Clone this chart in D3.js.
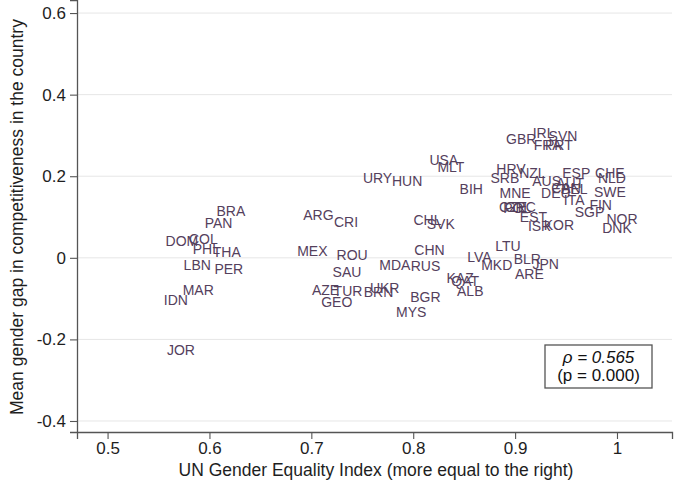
<!DOCTYPE html>
<html>
<head>
<meta charset="utf-8">
<script src="https://cdn.jsdelivr.net/npm/d3@7"></script>
<style>
  body { margin: 0; background: #fff; }
  svg { font-family: "Liberation Sans", Arial, Helvetica, sans-serif; }
</style>
</head>
<body>
<div id="chart"></div>
<script>
// country codes, equality index, gender gap
const countries = ["BRA","PAN","DOM","COL","PHL","THA","LBN","PER","MAR","IDN","JOR",
  "ARG","CRI","URY","HUN","USA","MLT","BIH","CHL","SVK","MEX","ROU","CHN","SAU","MDA","RUS",
  "AZE","TUR","GEO","UKR","BRN","BGR","MYS","KAZ","QAT","ALB","LVA","LTU","MKD","BLR","JPN","ARE",
  "GBR","IRL","SVN","FRA","PRT","HRV","NZL","SRB","AUS","ESP","CHE","NLD","AUT","CAN","BEL",
  "DEU","SWE","ITA","FIN","MNE","CZE","POL","GRC","EST","ISR","KOR","SGP","NOR","DNK"];
const equality = [0.621,0.609,0.573,0.594,0.597,0.617,0.588,0.619,0.589,0.567,0.572,
  0.707,0.734,0.765,0.794,0.830,0.837,0.857,0.814,0.827,0.701,0.740,0.816,0.735,0.782,0.812,
  0.714,0.736,0.725,0.772,0.766,0.812,0.798,0.846,0.851,0.856,0.865,0.893,0.882,0.912,0.930,0.914,
  0.906,0.928,0.947,0.932,0.943,0.896,0.917,0.890,0.931,0.960,0.993,0.995,0.954,0.950,0.958,
  0.940,0.993,0.958,0.984,0.900,0.898,0.902,0.905,0.918,0.924,0.943,0.973,1.005,1.000];
const gap = [0.115,0.085,0.041,0.046,0.022,0.014,-0.018,-0.027,-0.079,-0.103,-0.226,
  0.105,0.088,0.196,0.188,0.240,0.223,0.169,0.093,0.083,0.017,0.007,0.019,-0.035,-0.018,-0.020,
  -0.079,-0.081,-0.108,-0.074,-0.084,-0.096,-0.133,-0.050,-0.056,-0.081,0.002,0.029,-0.018,-0.003,-0.015,-0.040,
  0.291,0.306,0.299,0.276,0.276,0.218,0.208,0.196,0.188,0.208,0.208,0.196,0.184,0.172,0.168,
  0.158,0.161,0.142,0.129,0.159,0.124,0.122,0.124,0.100,0.078,0.080,0.112,0.095,0.073];

const xTicks = [0.5, 0.6, 0.7, 0.8, 0.9, 1];
const yTicks = [-0.4, -0.2, 0, 0.2, 0.4, 0.6];
const statLines = ["ρ = 0.565", "(p = 0.000)"];

const width = 676, height = 485;
const labelColor = "#54405c";
const textColor = "#1e1e1e";
const axisColor = "#555";

const svg = d3.select("#chart").append("svg")
  .attr("width", width)
  .attr("height", height);

const x = d3.scaleLinear().domain([0.47, 1.054]).range([77, 672]);
const y = d3.scaleLinear().domain([-0.427, 0.632]).range([432, 0]);

// horizontal grid
svg.append("g")
  .selectAll("line")
  .data(yTicks)
  .enter()
  .append("line")
  .attr("x1", x.range()[0])
  .attr("x2", x.range()[1])
  .attr("y1", d => y(d))
  .attr("y2", d => y(d))
  .attr("stroke", "#e6e6e6")
  .attr("stroke-width", 1);

// axes (plain hyphen for negatives, like the original)
const yAxis = svg.append("g")
  .attr("transform", `translate(${x.range()[0]},0)`)
  .call(d3.axisLeft(y).tickValues(yTicks).tickSize(7).tickPadding(4)
    .tickFormat(d => String(d)));

const xAxis = svg.append("g")
  .attr("transform", `translate(0,${y.range()[0]})`)
  .call(d3.axisBottom(x).tickValues(xTicks).tickSize(7).tickPadding(3)
    .tickFormat(d => String(d)));

[xAxis, yAxis].forEach(a => {
  a.select(".domain").attr("stroke", axisColor).attr("stroke-width", 1.3);
  a.selectAll(".tick line").attr("stroke", axisColor).attr("stroke-width", 1.1);
  a.selectAll(".tick text")
    .attr("fill", textColor)
    .attr("font-size", 17)
    .attr("font-family", "Liberation Sans, Arial, sans-serif");
});

// axis titles
svg.append("text")
  .attr("x", 376)
  .attr("y", 476)
  .attr("text-anchor", "middle")
  .attr("font-size", 17.5)
  .attr("fill", textColor)
  .text("UN Gender Equality Index (more equal to the right)");

svg.append("text")
  .attr("transform", `translate(23,${(y(0.6) + y(-0.4)) / 2}) rotate(-90)`)
  .attr("text-anchor", "middle")
  .attr("font-size", 17.5)
  .attr("fill", textColor)
  .text("Mean gender gap in competitiveness in the country");

// country labels as markers
const points = countries.map((c, i) => ({ code: c, ex: equality[i], gg: gap[i] }));

svg.append("g")
  .selectAll("text")
  .data(points)
  .enter()
  .append("text")
  .attr("x", d => x(d.ex))
  .attr("y", d => y(d.gg))
  .attr("dy", "0.36em")
  .attr("text-anchor", "middle")
  .attr("font-size", 14)
  .attr("fill", labelColor)
  .text(d => d.code);

// correlation box
const box = svg.append("g").attr("transform", "translate(545,345)");
box.append("rect")
  .attr("width", 107)
  .attr("height", 43)
  .attr("fill", "#fff")
  .attr("stroke", axisColor)
  .attr("stroke-width", 1.3);
box.selectAll("text")
  .data(statLines)
  .enter()
  .append("text")
  .attr("x", 53.5)
  .attr("y", (d, i) => 18 + i * 18)
  .attr("text-anchor", "middle")
  .attr("font-size", 17)
  .attr("font-style", (d, i) => i === 0 ? "italic" : "normal")
  .attr("fill", "#111")
  .text(d => d);
</script>
</body>
</html>
